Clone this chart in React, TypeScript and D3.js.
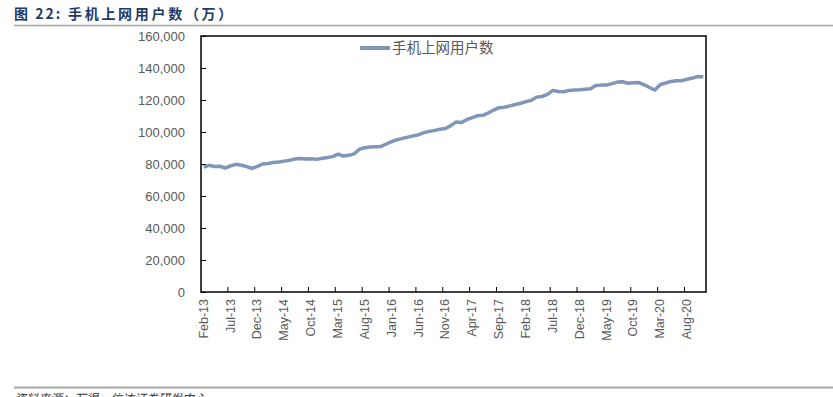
import React, { useRef, useEffect } from 'react';
import * as d3 from 'd3';

// monthly categories Feb-13 .. Nov-20
const months: string[] = d3
    .timeMonth.range(new Date(2013, 1, 1), new Date(2020, 11, 1))
    .map(d3.timeFormat('%b-%y'));

// 手机上网用户数（万）
const users: number[] = [
    78000, 79200, 78400, 78600, 77500, 78800, 79800, 79200, 78400, 77200,
    78500, 80000, 80300, 81000, 81200, 81800, 82300, 83200, 83400, 83100,
    83300, 82900, 83500, 84000, 84600, 86200, 85000, 85400, 86300, 89200,
    90200, 90600, 90800, 91000, 92500, 94000, 95200, 96000, 96800, 97600,
    98300, 99600, 100400, 101000, 101700, 102200, 104000, 106300, 105900, 107800,
    109000, 110200, 110400, 112000, 113700, 115200, 115500, 116300, 117200, 118000,
    119000, 119800, 121800, 122200, 123500, 126000, 125300, 125200, 126000, 126200,
    126400, 126700, 127000, 129000, 129300, 129300, 130200, 131200, 131400, 130400,
    130800, 130900, 129500, 127800, 126200, 129700, 130600, 131600, 132000, 132100,
    133000, 133700, 134700, 134500,
];

const yTicks = [0, 20000, 40000, 60000, 80000, 100000, 120000, 140000, 160000];
const seriesName = '手机上网用户数';
const titleNo = '图 22:';
const titleText = '手机上网用户数（万）';
const source = '资料来源：万得，信达证券研发中心';

const W = 833;
const H = 397;
const plot = { left: 201, right: 706, top: 36, bottom: 292 };
const lineColor = '#7F96B9';
const textColor = '#595959';

const App = () => {
    const svgRef = useRef(null);

    useEffect(() => {
        if (!svgRef.current) {
            return;
        }
        const svg = d3.select(svgRef.current);
        svg.selectAll('*').remove();

        const x = d3.scaleBand().domain(months).range([plot.left, plot.right]);
        const y = d3.scaleLinear().domain([0, 160000]).range([plot.bottom, plot.top]);

        // title + rules
        svg.append('text')
            .attr('x', 14)
            .attr('y', 19)
            .attr('font-family', '"Noto Sans CJK SC", sans-serif')
            .attr('font-size', 14)
            .attr('font-weight', 'bold')
            .attr('fill', '#1F3864')
            .attr('letter-spacing', 2)
            .text(titleNo);
        svg.append('text')
            .attr('x', 68)
            .attr('y', 19)
            .attr('font-family', '"Noto Sans CJK SC", sans-serif')
            .attr('font-size', 14)
            .attr('font-weight', 'bold')
            .attr('fill', '#1F3864')
            .attr('letter-spacing', 2.7)
            .text(titleText);
        svg.append('line')
            .attr('x1', 14).attr('x2', W)
            .attr('y1', 25.5).attr('y2', 25.5)
            .attr('stroke', '#A6A6A6')
            .attr('stroke-width', 1.5);
        svg.append('line')
            .attr('x1', 14).attr('x2', W)
            .attr('y1', 387.5).attr('y2', 387.5)
            .attr('stroke', '#A6A6A6')
            .attr('stroke-width', 2);
        svg.append('text')
            .attr('x', 14)
            .attr('y', 403)
            .attr('font-family', '"Noto Sans CJK SC", sans-serif')
            .attr('font-size', 12)
            .attr('fill', '#333')
            .attr('font-style', 'italic')
            .text(source);

        // y axis
        const yAxis = d3.axisLeft(y)
            .tickValues(yTicks)
            .tickSize(-5)
            .tickPadding(16)
            .tickFormat(d3.format(','));
        const gy = svg.append('g')
            .attr('transform', `translate(${plot.left},0)`)
            .call(yAxis);
        gy.select('.domain').remove();
        gy.selectAll('line').attr('stroke', '#000');
        gy.selectAll('text')
            .attr('font-family', '"Liberation Sans", Arial, sans-serif')
            .attr('font-size', 13)
            .attr('fill', textColor);

        // x axis: ticks between categories every 5 months
        const tickIdx = d3.range(5, months.length, 5);
        const step = x.step();
        svg.append('g')
            .selectAll('line')
            .data(tickIdx)
            .join('line')
            .attr('x1', (i) => (x(months[i]) as number))
            .attr('x2', (i) => (x(months[i]) as number))
            .attr('y1', plot.bottom)
            .attr('y2', plot.bottom - 5)
            .attr('stroke', '#000');

        svg.append('g')
            .selectAll('text')
            .data(months.filter((d, i) => i % 5 === 0))
            .join('text')
            .attr('transform', (d) => `translate(${(x(d) as number) + step / 2 + 4},${plot.bottom + 7}) rotate(-90)`)
            .attr('text-anchor', 'end')
            .attr('font-family', '"Liberation Sans", Arial, sans-serif')
            .attr('font-size', 12.5)
            .attr('fill', textColor)
            .text((d) => d);

        // line
        const line = d3.line<number>()
            .x((d, i) => (x(months[i]) as number) + step / 2)
            .y((d) => y(d));
        svg.append('path')
            .datum(users)
            .attr('d', line)
            .attr('fill', 'none')
            .attr('stroke', lineColor)
            .attr('stroke-width', 3.5)
            .attr('stroke-linejoin', 'round');

        // plot border
        svg.append('rect')
            .attr('x', plot.left)
            .attr('y', plot.top)
            .attr('width', plot.right - plot.left)
            .attr('height', plot.bottom - plot.top)
            .attr('fill', 'none')
            .attr('stroke', '#000')
            .attr('stroke-width', 1.5);

        // legend
        const lg = svg.append('g').attr('transform', 'translate(360,48)');
        lg.append('line')
            .attr('x1', 0).attr('x2', 30)
            .attr('y1', 0).attr('y2', 0)
            .attr('stroke', lineColor)
            .attr('stroke-width', 4);
        lg.append('text')
            .attr('x', 32)
            .attr('y', 5)
            .attr('font-family', '"Noto Sans CJK SC", sans-serif')
            .attr('font-size', 14.5)
            .attr('fill', textColor)
            .text(seriesName);
    }, []);

    return (
        <svg
            ref={svgRef}
            width={W}
            height={H}
            style={{ position: 'absolute', left: 0, top: 0, background: '#fff' }}
        ></svg>
    );
};

export default App;
